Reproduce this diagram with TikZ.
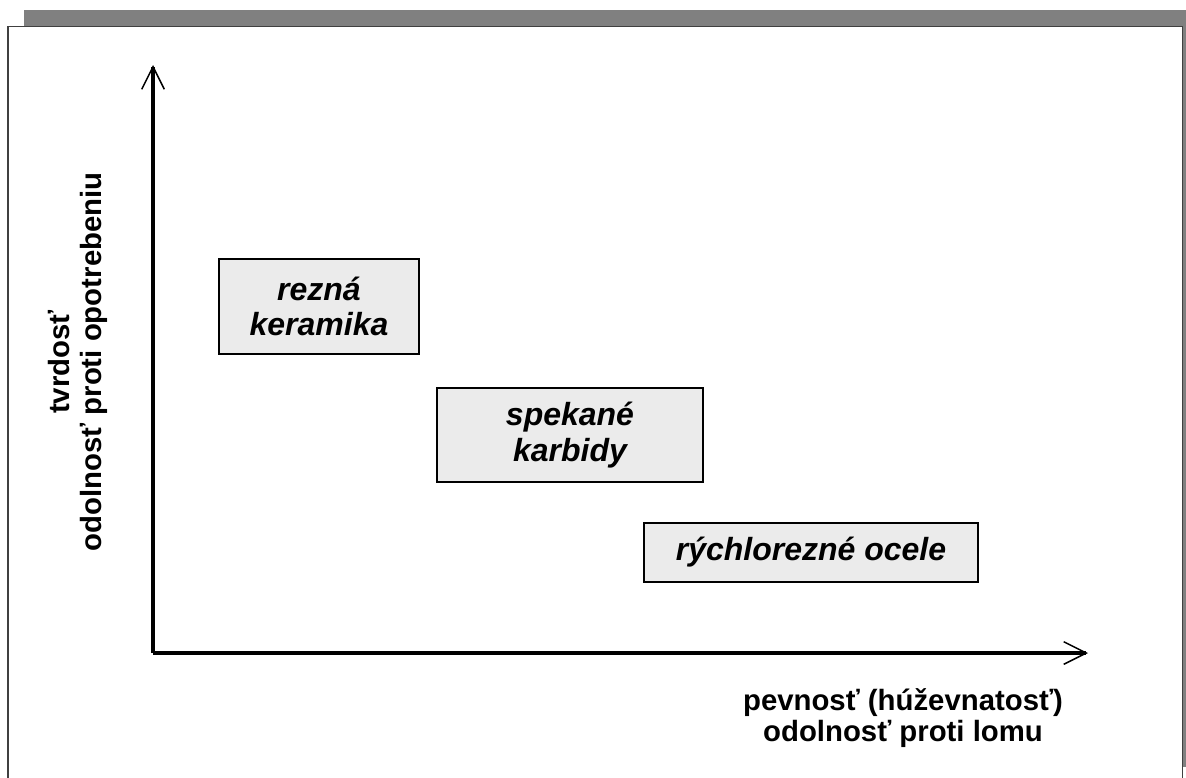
\documentclass[tikz,border=0pt]{standalone}
\usepackage{fontspec}
\setmainfont{Liberation Sans}
\usetikzlibrary{arrows.meta}

\begin{document}
\begin{tikzpicture}[
  x=0.75pt,
  y=-0.75pt,
  axis/.style={
    line width=2.3pt,
    -{Straight Barb[length=17pt,width=17pt,line width=1.1pt]}
  },
  material/.style={
    draw,
    line width=1.5pt,
    fill=black!8,
    inner sep=0pt,
    align=center,
    font=\fontsize{24}{26.5}\selectfont\bfseries\itshape
  },
  axislabel/.style={
    align=center,
    font=\fontsize{22}{23.5}\selectfont\bfseries
  }
]
  \useasboundingbox (0,0) rectangle (1186,778);
  \clip (0,0) rectangle (1186,778);
  % frame with shadow
  \fill[black!50] (24,10) rectangle (1190,767);
  \draw[fill=white,draw=black!75,line width=0.8pt] (8,26.5) rectangle (1182.5,800);

  \coordinate (origin) at (153,653);
  \coordinate (ytop) at (153,65);
  \coordinate (xend) at (1088,653);
  \draw[axis] (origin) -- (ytop);
  \draw[axis] (origin) -- (xend);

  \node[axislabel,rotate=90] (ylabel) at (78,362)
    {tvrdosť\\odolnosť proti opotrebeniu};
  \node[axislabel] (xlabel) at (903,718)
    {pevnosť (húževnatosť)\\odolnosť proti lomu};

  \node[material,minimum width=150pt,minimum height=71.25pt] (keramika)
    at (319,306.5) {rezná\\keramika};
  \node[material,minimum width=199.5pt,minimum height=70.5pt] (karbidy)
    at (570,435) {spekané\\karbidy};
  \node[material,minimum width=250.5pt,minimum height=44.25pt] (ocele)
    at (811,552.5) {rýchlorezné ocele};
\end{tikzpicture}
\end{document}
